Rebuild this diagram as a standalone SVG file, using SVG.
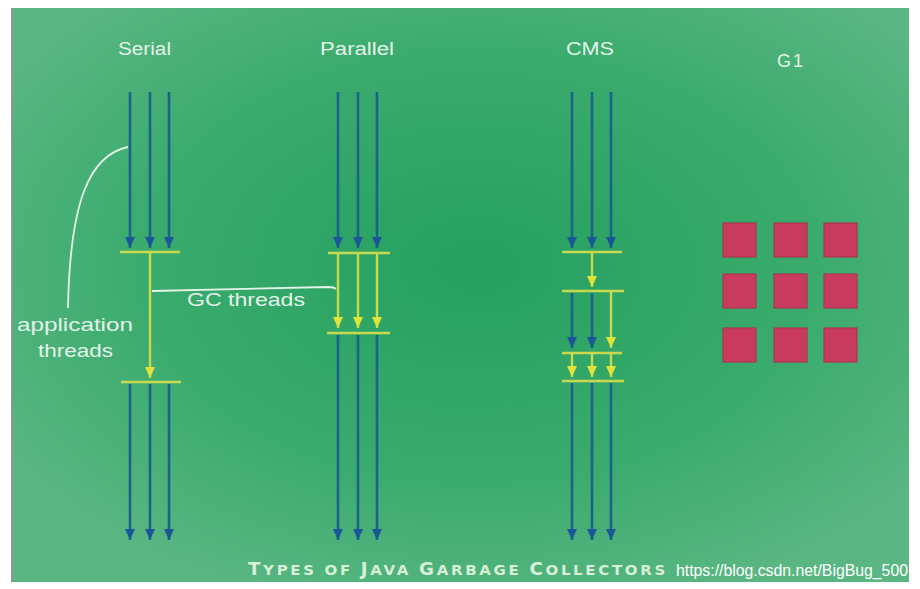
<svg xmlns="http://www.w3.org/2000/svg" width="920" height="589" viewBox="0 0 920 589">
<style>
.title{font-family:"Liberation Sans","DejaVu Sans",sans-serif;font-size:18px;fill:#e3f3e8}
.lbl{font-family:"Liberation Sans","DejaVu Sans",sans-serif;font-size:19px;fill:#e3f3e8}
.app{stroke:#1c638c;stroke-width:2.6;fill:none;marker-end:url(#ab)}
.gc{stroke:#c9d94f;stroke-width:2.4;fill:none}
.gca{stroke:#c9d94f;stroke-width:2.4;fill:none;marker-end:url(#ay)}
.pt{stroke:#e3f3e8;stroke-width:1.8;fill:none}
.sq{fill:#c93b5e;stroke:#a8374f;stroke-width:1.2}
</style>
<defs>
<radialGradient id="bg" cx="0.52" cy="0.45" r="0.62">
<stop offset="0" stop-color="#25a060"/>
<stop offset="0.6" stop-color="#3aab6d"/>
<stop offset="1" stop-color="#5ab682"/>
</radialGradient>
<marker id="ab" markerWidth="10" markerHeight="12" refX="5" refY="11" markerUnits="userSpaceOnUse" viewBox="0 0 10 12">
<path d="M0,0 L10,0 L5,11 Z" fill="#1b5798"/>
</marker>
<marker id="ay" markerWidth="10" markerHeight="12" refX="5" refY="11" markerUnits="userSpaceOnUse" viewBox="0 0 10 12">
<path d="M0,0 L10,0 L5,11 Z" fill="#dfe33a"/>
</marker>
</defs>
<rect x="0" y="0" width="920" height="589" fill="#ffffff"/>
<rect x="11" y="8" width="898" height="574" fill="url(#bg)"/>
<rect x="11" y="8" width="2" height="574" fill="#8a9a90"/>

<g id="titles">
<text class="title" x="118" y="55" textLength="53" lengthAdjust="spacingAndGlyphs">Serial</text>
<text class="title" x="320" y="55" textLength="74" lengthAdjust="spacingAndGlyphs">Parallel</text>
<text class="title" x="566" y="55" textLength="48" lengthAdjust="spacingAndGlyphs">CMS</text>
<text class="title" x="777" y="67" textLength="26" lengthAdjust="spacing">G1</text>
</g>

<g id="connectors">
<!-- serial -->
<line class="app" x1="130" y1="92" x2="130" y2="248"/>
<line class="app" x1="150" y1="92" x2="150" y2="248"/>
<line class="app" x1="169" y1="92" x2="169" y2="248"/>
<line class="app" x1="130" y1="384" x2="130" y2="540"/>
<line class="app" x1="150" y1="384" x2="150" y2="540"/>
<line class="app" x1="169" y1="384" x2="169" y2="540"/>
<line class="gca" x1="150" y1="253" x2="150" y2="378"/>
<!-- parallel -->
<line class="app" x1="338" y1="92" x2="338" y2="248"/>
<line class="app" x1="358" y1="92" x2="358" y2="248"/>
<line class="app" x1="377" y1="92" x2="377" y2="248"/>
<line class="app" x1="338" y1="335" x2="338" y2="540"/>
<line class="app" x1="358" y1="335" x2="358" y2="540"/>
<line class="app" x1="377" y1="335" x2="377" y2="540"/>
<line class="gca" x1="338" y1="254" x2="338" y2="328"/>
<line class="gca" x1="358" y1="254" x2="358" y2="328"/>
<line class="gca" x1="377" y1="254" x2="377" y2="328"/>
<!-- cms -->
<line class="app" x1="572" y1="92" x2="572" y2="248"/>
<line class="app" x1="592" y1="92" x2="592" y2="248"/>
<line class="app" x1="611" y1="92" x2="611" y2="248"/>
<line class="app" x1="572" y1="293" x2="572" y2="348"/>
<line class="app" x1="592" y1="293" x2="592" y2="348"/>
<line class="gca" x1="611" y1="292" x2="611" y2="348"/>
<line class="gca" x1="592" y1="253" x2="592" y2="287"/>
<line class="gca" x1="572" y1="354" x2="572" y2="377"/>
<line class="gca" x1="592" y1="354" x2="592" y2="377"/>
<line class="gca" x1="611" y1="354" x2="611" y2="377"/>
<line class="app" x1="572" y1="383" x2="572" y2="540"/>
<line class="app" x1="592" y1="383" x2="592" y2="540"/>
<line class="app" x1="611" y1="383" x2="611" y2="540"/>
<!-- pointers -->
<path class="pt" d="M128,147 C90,155 70,200 68,308"/>
<path class="pt" d="M152,291 L328,287 Q334,287 336,289"/>
</g>

<g id="serial">
<line class="gc" x1="120" y1="252" x2="180" y2="252"/>
<line class="gc" x1="121" y1="382" x2="181" y2="382"/>
</g>
<g id="parallel">
<line class="gc" x1="328" y1="253" x2="390" y2="253"/>
<line class="gc" x1="327" y1="333" x2="390" y2="333"/>
</g>
<g id="cms">
<line class="gc" x1="562" y1="252" x2="622" y2="252"/>
<line class="gc" x1="562" y1="291" x2="624" y2="291"/>
<line class="gc" x1="562" y1="353" x2="622" y2="353"/>
<line class="gc" x1="562" y1="381" x2="624" y2="381"/>
</g>
<g id="g1">
<rect class="sq" x="723" y="223" width="33" height="34"/>
<rect class="sq" x="774" y="223" width="33" height="34"/>
<rect class="sq" x="824" y="223" width="33" height="34"/>
<rect class="sq" x="723" y="274" width="33" height="34"/>
<rect class="sq" x="774" y="274" width="33" height="34"/>
<rect class="sq" x="824" y="274" width="33" height="34"/>
<rect class="sq" x="723" y="328" width="33" height="34"/>
<rect class="sq" x="774" y="328" width="33" height="34"/>
<rect class="sq" x="824" y="328" width="33" height="34"/>
</g>

<g id="labels">
<text class="lbl" x="187" y="306" textLength="118" lengthAdjust="spacingAndGlyphs">GC threads</text>
<text class="lbl" x="17" y="331" textLength="116" lengthAdjust="spacingAndGlyphs">application</text>
<text class="lbl" x="38" y="357" textLength="75" lengthAdjust="spacingAndGlyphs">threads</text>
</g>

<g id="footer">
<text x="248" y="575" font-family="'DejaVu Sans',sans-serif" font-weight="bold" font-size="14" letter-spacing="2.5" fill="#d8efd8" textLength="420" lengthAdjust="spacingAndGlyphs"><tspan font-size="17">T</tspan>YPES OF <tspan font-size="17">J</tspan>AVA <tspan font-size="17">G</tspan>ARBAGE <tspan font-size="17">C</tspan>OLLECTORS</text>
<text x="676" y="576" font-family="'Liberation Sans',Arial,sans-serif" font-size="16" fill="#ffffff" textLength="232" lengthAdjust="spacingAndGlyphs">https://blog.csdn.net/BigBug_500</text>
</g>
</svg>
